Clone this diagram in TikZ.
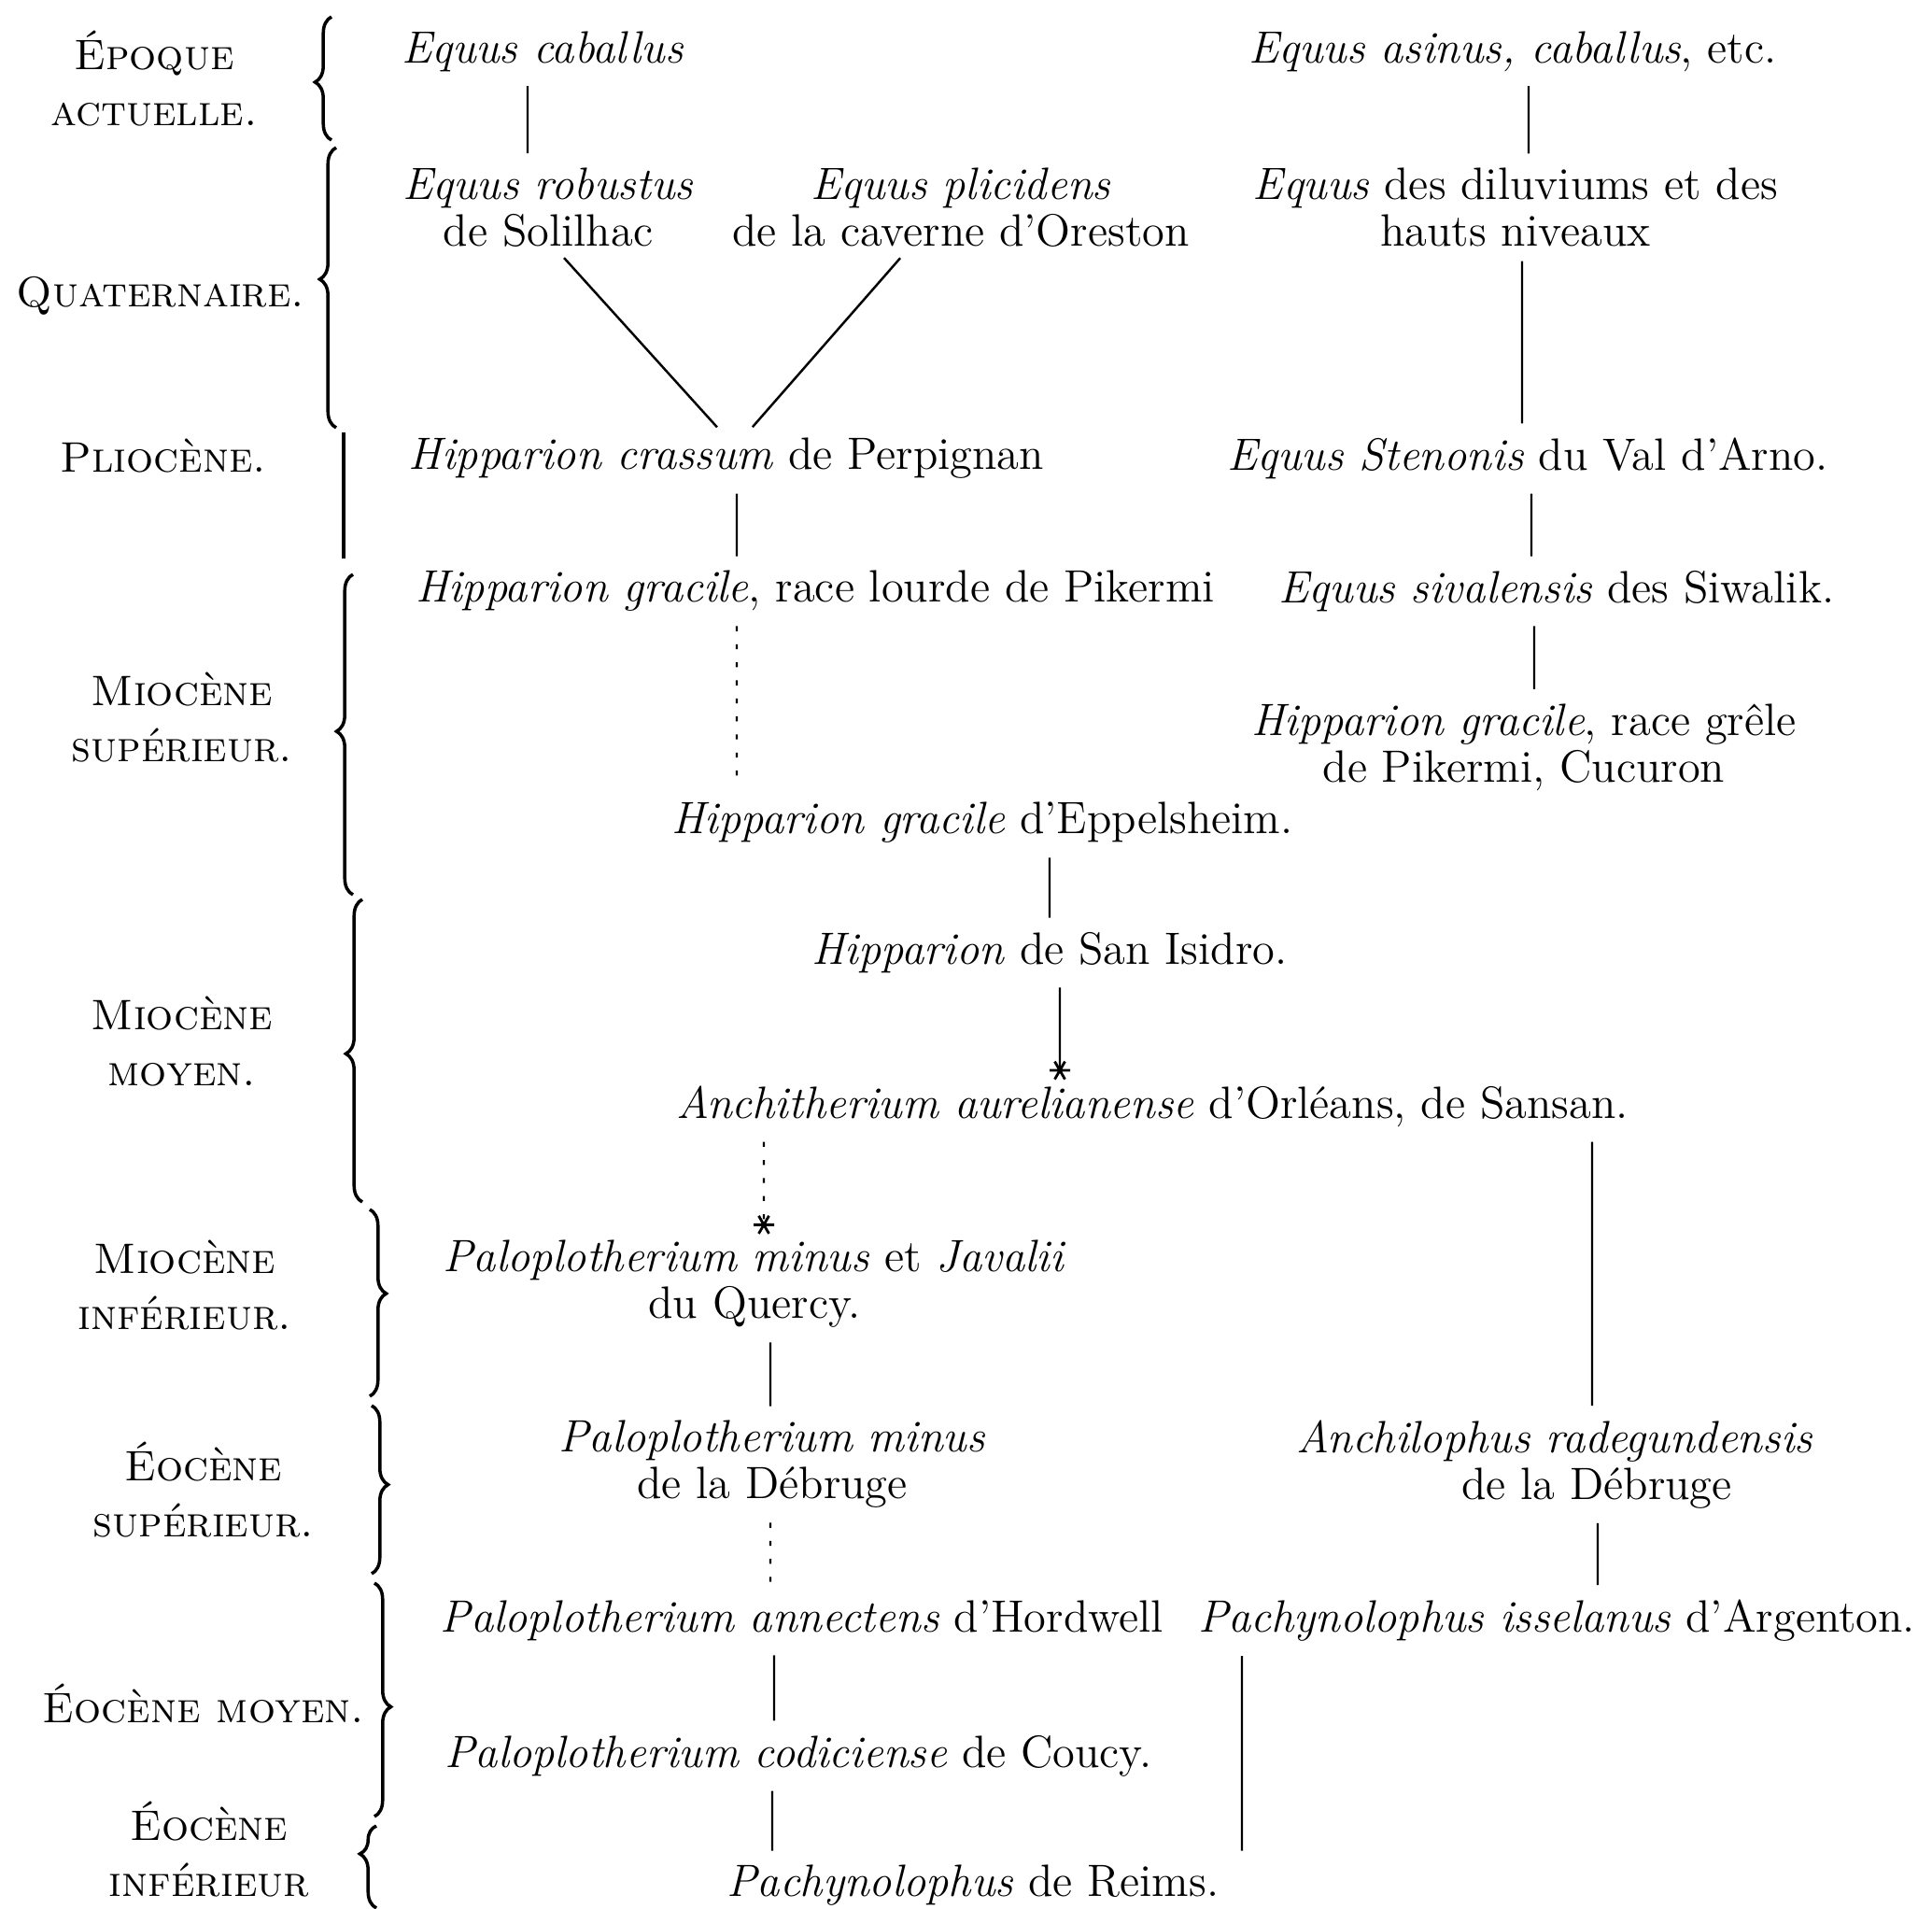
\documentclass[tikz,border=0pt]{standalone}
\usepackage{fontspec}
\usepackage{tikz}
\usetikzlibrary{arrows.meta,decorations.pathreplacing}

\begin{document}
\begin{tikzpicture}[x=1cm,y=-1cm]
\tikzstyle{every node}+=[inner sep=0pt, align=center, font=\fontsize{13.8}{14.2}\selectfont]
\tikzstyle{epoch}=[font=\fontsize{13}{17}\selectfont]
\tikzstyle{link}=[line width=0.7pt, shorten <=1.5mm, shorten >=1.5mm]
\tikzstyle{faint}=[link, dash pattern=on 1.5pt off 4pt]
\tikzstyle{rayend}=[-{Rays[n=6,length=2.2mm,line width=0.8pt]}, shorten >=0.6mm]
\tikzstyle{period}=[decorate, decoration={brace, amplitude=5pt}, line width=1pt]
\useasboundingbox (0,0) rectangle (20.69,20.43);

% periods
\node[epoch] (act) at (1.65,0.84) {\textsc{Époque}\\\textsc{actuelle.}};
\node[epoch] (qua) at (1.72,3.17) {\textsc{Quaternaire.}};
\node[epoch] (pli) at (1.75,4.88) {\textsc{Pliocène.}};
\node[epoch] (msup) at (1.95,7.68) {\textsc{Miocène}\\\textsc{supérieur.}};
\node[epoch] (mmoy) at (1.95,11.15) {\textsc{Miocène}\\\textsc{moyen.}};
\node[epoch] (minf) at (1.98,13.76) {\textsc{Miocène}\\\textsc{inférieur.}};
\node[epoch] (esup) at (2.18,15.95) {\textsc{Éocène}\\\textsc{supérieur.}};
\node[epoch] (emoy) at (2.18,18.24) {\textsc{Éocène moyen.}};
\node[epoch] (einf) at (2.24,19.80) {\textsc{Éocène}\\\textsc{inférieur}};

\draw[period, decoration={mirror, aspect=0.53}] (3.55,0.18) -- (3.55,1.50);
\draw[period, decoration={mirror, aspect=0.47}] (3.60,1.58) -- (3.60,4.58);
\draw[line width=1pt] (3.68,4.63) -- (3.68,5.98);
\draw[period, decoration={mirror, aspect=0.49}] (3.78,6.15) -- (3.78,9.58);
\draw[period, decoration={mirror, aspect=0.51}] (3.88,9.63) -- (3.88,12.87);
\draw[period, decoration={aspect=0.45}] (3.96,12.95) -- (3.96,14.95);
\draw[period, decoration={aspect=0.47}] (3.98,15.05) -- (3.98,16.85);
\draw[period, decoration={aspect=0.53}] (4.01,16.95) -- (4.01,19.45);
\draw[period, decoration={mirror, aspect=0.34}] (4.03,19.55) -- (4.03,20.43);

% species
\node (ecab) at (5.81,0.55) {\textit{Equus caballus}};
\node (easi) at (16.20,0.55) {\textit{Equus asinus, caballus}, etc.};
\node (erob) at (5.87,2.22) {\textit{Equus robustus}\\de Solilhac};
\node (epli) at (10.29,2.22) {\textit{Equus plicidens}\\de la caverne d'Oreston};
\node (edil) at (16.23,2.22) {\textit{Equus} des diluviums et des\\hauts niveaux};
\node (hcra) at (7.78,4.91) {\textit{Hipparion crassum} de Perpignan};
\node (este) at (16.36,4.91) {\textit{Equus Stenonis} du Val d'Arno.};
\node (hgra) at (8.73,6.33) {\textit{Hipparion gracile}, race lourde de Pikermi};
\node (esiv) at (16.67,6.33) {\textit{Equus sivalensis} des Siwalik.};
\node (hgrp) at (16.32,8.00) {\textit{Hipparion gracile}, race grêle\\de Pikermi, Cucuron};
\node (hepp) at (10.52,8.81) {\textit{Hipparion gracile} d'Eppelsheim.};
\node (hsan) at (11.24,10.20) {\textit{Hipparion} de San Isidro.};
\node (anch) at (12.34,11.85) {\textit{Anchitherium aurelianense} d'Orléans, de Sansan.};
\node (pque) at (8.08,13.75) {\textit{Paloplotherium minus} et \textit{Javalii}\\du Quercy.};
\node (pdeb) at (8.27,15.68) {\textit{Paloplotherium minus}\\de la Débruge};
\node (arad) at (16.65,15.68) {\textit{Anchilophus radegundensis}\\\hspace*{0.9cm}de la Débruge};
\node (pann) at (8.59,17.35) {\textit{Paloplotherium annectens} d'Hordwell};
\node (pach) at (16.67,17.35) {\textit{Pachynolophus isselanus} d'Argenton.};
\node (pcod) at (8.55,18.80) {\textit{Paloplotherium codiciense} de Coucy.};
\node (prei) at (10.42,20.19) {\textit{Pachynolophus} de Reims.};

% descent
\draw[link] ([xshift=-1.6mm]ecab.south) -- ([xshift=-2.2mm]erob.north);
\draw[link] ([xshift=1.7mm]easi.south) -- ([xshift=1.4mm]edil.north);
\draw[link] ([xshift=0.7mm]erob.south) -- (hcra.north);
\draw[link] ([xshift=-5.5mm]epli.south) -- ([xshift=1.8mm]hcra.north);
\draw[link] ([xshift=0.7mm]edil.south) -- ([xshift=-0.6mm]este.north);
\draw[link] ([xshift=1.1mm]hcra.south) -- ([xshift=-8.4mm]hgra.north);
\draw[link] ([xshift=0.4mm]este.south) -- ([xshift=-2.7mm]esiv.north);
\draw[faint] ([xshift=-8.4mm]hgra.south) -- ([xshift=-26.3mm]hepp.north);
\draw[link] ([xshift=-2.4mm]esiv.south) -- ([xshift=1.1mm]hgrp.north);
\draw[link] ([xshift=7.2mm]hepp.south) -- (hsan.north);
\draw[link, rayend] ([xshift=1.1mm]hsan.south) -- ([xshift=-9.9mm]anch.north);
\draw[faint, rayend] ([xshift=-41.6mm]anch.south) -- ([xshift=1mm]pque.north);
\draw[link] ([xshift=47.1mm]anch.south) -- ([xshift=4mm]arad.north);
\draw[link] ([xshift=1.7mm]pque.south) -- ([xshift=-0.2mm]pdeb.north);
\draw[link] ([xshift=4.6mm]arad.south) -- ([xshift=4.4mm]pach.north);
\draw[faint] ([xshift=-0.2mm]pdeb.south) -- ([xshift=-3.4mm]pann.north);
\draw[link] ([xshift=-3mm]pann.south) -- ([xshift=-2.6mm]pcod.north);
\draw[link] ([xshift=-2.8mm]pcod.south) -- ([xshift=-21.5mm]prei.north);
\draw[link] ([xshift=-33.7mm]pach.south) -- ([xshift=28.8mm]prei.north);
\end{tikzpicture}
\end{document}
